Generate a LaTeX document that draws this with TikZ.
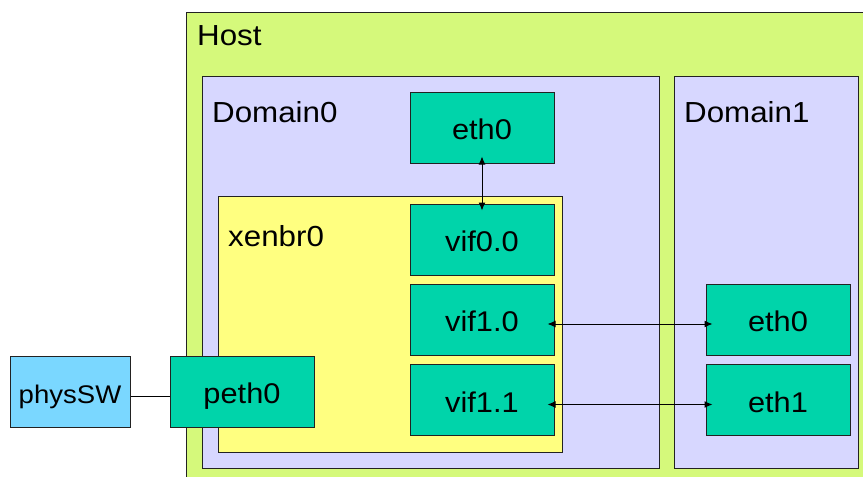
\documentclass[tikz,border=0pt]{standalone}
\usepackage{fontspec}
\setmainfont[FakeStretch=1.08]{Liberation Sans}
\usetikzlibrary{arrows.meta}
\definecolor{hostgreen}{HTML}{D5F97B}
\definecolor{domlav}{HTML}{D7D7FF}
\definecolor{bryellow}{HTML}{FFFF80}
\definecolor{ifteal}{HTML}{00D4AA}
\definecolor{swblue}{HTML}{7AD7FF}
\definecolor{edge}{HTML}{222222}
\tikzset{
  frame/.style={draw=edge, line width=1pt, rectangle, inner sep=0pt},
  boxtext/.style={font=\fontsize{28.5}{32}\selectfont, text height=24pt, text depth=0pt},
  iface/.style={frame, boxtext, fill=ifteal, minimum width=144pt, minimum height=71pt},
  caption/.style={anchor=base west, inner sep=0pt, font=\fontsize{29}{32}\selectfont},
  link/.style={line width=1pt, draw=black},
  biarrow/.style={link, {Latex[length=8pt,width=7pt]}-{Latex[length=8pt,width=7pt]},
    shorten <=-7pt, shorten >=-7pt}
}
\begin{document}
\begin{tikzpicture}[x=1pt, y=-1pt]
\useasboundingbox (0,0) rectangle (863,477);
\clip (0,0) rectangle (863,477);

% nested containers
\node[frame, fill=hostgreen, minimum width=694pt, minimum height=478pt] (host) at (533,251) {};
\node[frame, fill=domlav, minimum width=457pt, minimum height=392pt] (dom0) at (430.5,272) {};
\node[frame, fill=domlav, minimum width=184pt, minimum height=392pt] (dom1) at (766,272) {};
\node[frame, fill=bryellow, minimum width=344pt, minimum height=256pt] (xenbr) at (390,324) {};

% container captions
\node[caption] (hostlbl) at (197,45) {Host};
\node[caption] (dom0lbl) at (212,122) {Domain0};
\node[caption] (dom1lbl) at (684,122) {Domain1};
\node[caption] (xenbrlbl) at (228,246) {xenbr0};

% interfaces
\node[iface] (eth0) at (482,127.5) {eth0};
\node[iface] (vif00) at (482,239.5) {vif0.0};
\node[iface] (vif10) at (482,319.5) {vif1.0};
\node[iface] (vif11) at (482,400) {vif1.1};
\node[iface] (deth0) at (778,319.5) {eth0};
\node[iface] (deth1) at (778,400) {eth1};
\node[iface] (peth0) at (242,391.5) {peth0};
\node[frame, boxtext, font=\fontsize{25.5}{30}\selectfont, fill=swblue,
  minimum width=120pt, minimum height=71pt] (physsw) at (70,391.5) {physSW};

% connections
\draw[biarrow] (eth0.south) -- (vif00.north);
\draw[biarrow] ([yshift=-4.5pt]vif10.east) -- ([yshift=-4.5pt]deth0.west);
\draw[biarrow] ([yshift=-4.5pt]vif11.east) -- ([yshift=-4.5pt]deth1.west);
\draw[link] ([yshift=-5pt]physsw.east) -- ([yshift=-5pt]peth0.west);
\end{tikzpicture}
\end{document}
